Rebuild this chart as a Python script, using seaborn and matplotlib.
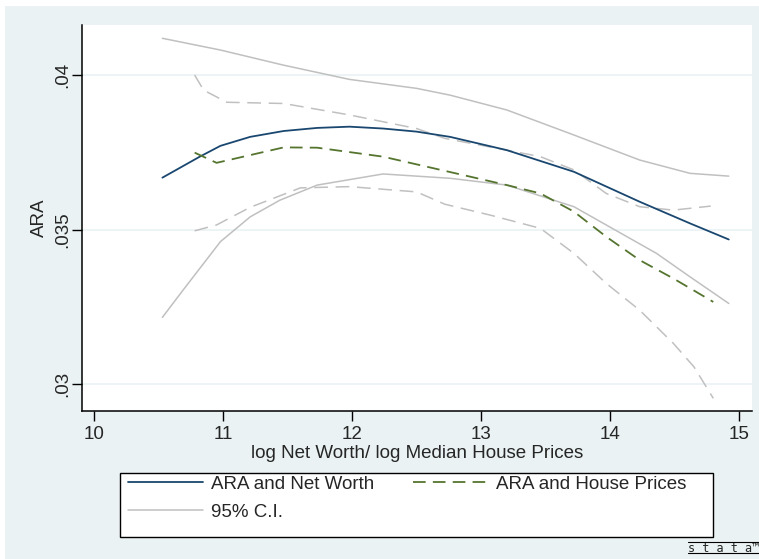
import numpy as np
import seaborn as sns
import matplotlib.pyplot as plt
from matplotlib.patches import Rectangle
from matplotlib.lines import Line2D

# ARA vs log net worth (local poly fit) and 95% band
nw_x = [10.53, 10.82, 10.98, 11.21, 11.47, 11.73, 11.98, 12.24, 12.50, 12.76, 13.20, 13.72, 14.23, 14.62, 14.92]
nw_y = [0.03668, 0.03736, 0.03771, 0.03800, 0.03819, 0.03829, 0.03833, 0.03827, 0.03817, 0.03800,
        0.03757, 0.03687, 0.03590, 0.03520, 0.03468]
nw_hi_x = [10.53, 10.98, 11.47, 11.98, 12.50, 12.76, 13.20, 13.72, 14.23, 14.62, 14.92]
nw_hi = [0.04119, 0.04081, 0.04032, 0.03986, 0.03957, 0.03935, 0.03887, 0.03806, 0.03725, 0.03682, 0.03673]
nw_lo_x = [10.53, 10.69, 10.98, 11.21, 11.44, 11.73, 12.24, 12.76, 13.20, 13.72, 13.97, 14.36, 14.62, 14.92]
nw_lo = [0.03216, 0.03304, 0.03461, 0.03541, 0.03595, 0.03644, 0.03680, 0.03666, 0.03644, 0.03574,
         0.03515, 0.03423, 0.03347, 0.03261]

# ARA vs log median house prices and 95% band
hp_x = [10.78, 10.95, 11.21, 11.47, 11.73, 12.24, 12.72, 13.20, 13.46, 13.72, 13.97, 14.23, 14.49, 14.80]
hp_y = [0.03749, 0.03716, 0.03741, 0.03766, 0.03765, 0.03736, 0.03690, 0.03644, 0.03617, 0.03558,
        0.03477, 0.03401, 0.03342, 0.03266]
hp_hi_x = [10.78, 10.85, 11.03, 11.47, 11.98, 12.50, 12.72, 13.20, 13.46, 13.72, 13.97, 14.23, 14.49, 14.78]
hp_hi = [0.04000, 0.03951, 0.03912, 0.03908, 0.03871, 0.03827, 0.03795, 0.03757, 0.03736, 0.03693,
         0.03617, 0.03574, 0.03563, 0.03576]
hp_lo_x = [10.78, 10.95, 11.21, 11.60, 11.98, 12.50, 12.72, 13.07, 13.46, 13.72, 13.97, 14.23, 14.49, 14.65, 14.80]
hp_lo = [0.03496, 0.03515, 0.03572, 0.03635, 0.03639, 0.03622, 0.03582, 0.03547, 0.03504, 0.03423,
         0.03326, 0.03239, 0.03132, 0.03056, 0.02954]

xticks = [10, 11, 12, 13, 14, 15]
yticks = [0.03, 0.035, 0.04]
ytick_labels = [".03", ".035", ".04"]

sns.set_theme(style="white")
plt.rcParams['font.family'] = ['Liberation Sans', 'DejaVu Sans']

navy = "#1a476f"
green = "#55752f"
grey = "#c0c0c0"
bg = "#eaf2f3"

fig = plt.figure(figsize=(7.59, 5.59), dpi=100)
fig.patch.set_facecolor("white")
fig.add_artist(Rectangle((5 / 759, 0), 1, 553 / 559, transform=fig.transFigure,
                         facecolor=bg, edgecolor="none", zorder=-10))

ax = fig.add_axes([82 / 759, 1 - 411 / 559, (752 - 82) / 759, (411 - 25) / 559])
ax.set_facecolor("white")

for yv in yticks:
    ax.axhline(yv, color=bg, lw=1.2, zorder=0)

sns.lineplot(x=nw_hi_x, y=nw_hi, ax=ax, color=grey, lw=1.1)
sns.lineplot(x=nw_lo_x, y=nw_lo, ax=ax, color=grey, lw=1.1)
sns.lineplot(x=hp_hi_x, y=hp_hi, ax=ax, color=grey, lw=1.1)
ax.lines[-1].set_dashes((9, 5))
sns.lineplot(x=hp_lo_x, y=hp_lo, ax=ax, color=grey, lw=1.1)
ax.lines[-1].set_dashes((9, 5))
sns.lineplot(x=nw_x, y=nw_y, ax=ax, color=navy, lw=1.3)
sns.lineplot(x=hp_x, y=hp_y, ax=ax, color=green, lw=1.3)
ax.lines[-1].set_dashes((7, 4))

ax.set_xlim(9.907, 15.10)
ax.set_ylim(0.02913, 0.04162)
ax.set_xticks(xticks)
ax.set_xticklabels([str(v) for v in xticks], fontsize=13.5)
ax.set_yticks(yticks)
ax.set_yticklabels(ytick_labels, fontsize=13.5, rotation=90, va="center")
ax.tick_params(axis="x", direction="out", length=7, width=1, color="black", bottom=True, pad=4)
ax.tick_params(axis="y", direction="out", length=7, width=1, color="black", left=True, pad=1)
ax.set_xlabel("log Net Worth/ log Median House Prices", fontsize=13.5, labelpad=1)
ax.set_ylabel("ARA", fontsize=13.5, labelpad=4)

for s in ["top", "right"]:
    ax.spines[s].set_visible(False)
for s in ["left", "bottom"]:
    ax.spines[s].set_color("black")
    ax.spines[s].set_linewidth(1.1)

# legend box (Stata style: text sits near the top of the box)
fig.add_artist(Rectangle((120 / 759, 1 - 537 / 559), (713 - 120) / 759, 64 / 559,
                         transform=fig.transFigure, facecolor="white",
                         edgecolor="black", lw=1.0, zorder=4))
handles = [Line2D([], [], color=navy, lw=1.3),
           Line2D([], [], color=grey, lw=1.1),
           Line2D([], [], color=green, lw=1.3, dashes=(7, 4))]
labels = ["ARA and Net Worth", "95% C.I.", "ARA and House Prices"]
leg = fig.legend(handles, labels, ncol=2, loc="upper left",
                 bbox_to_anchor=(126 / 759, 1 - 474 / 559),
                 fontsize=13.5, frameon=False,
                 handlelength=4.0, handletextpad=0.45, borderaxespad=0,
                 labelspacing=0.58, borderpad=0.1, columnspacing=2.05)
leg.set_zorder(5)

# stata logo
fig.add_artist(Line2D([688 / 759, 1], [1 - 542 / 559] * 2, transform=fig.transFigure,
                      color="black", lw=0.8))
fig.add_artist(Line2D([688 / 759, 1], [1 - 553 / 559] * 2, transform=fig.transFigure,
                      color="black", lw=0.8))
fig.text(688 / 759, 1 - 551.5 / 559, "s t a t a\u2122", fontsize=8.5, family="DejaVu Sans Mono",
         ha="left", va="baseline")

plt.savefig("out.png", dpi=100)
